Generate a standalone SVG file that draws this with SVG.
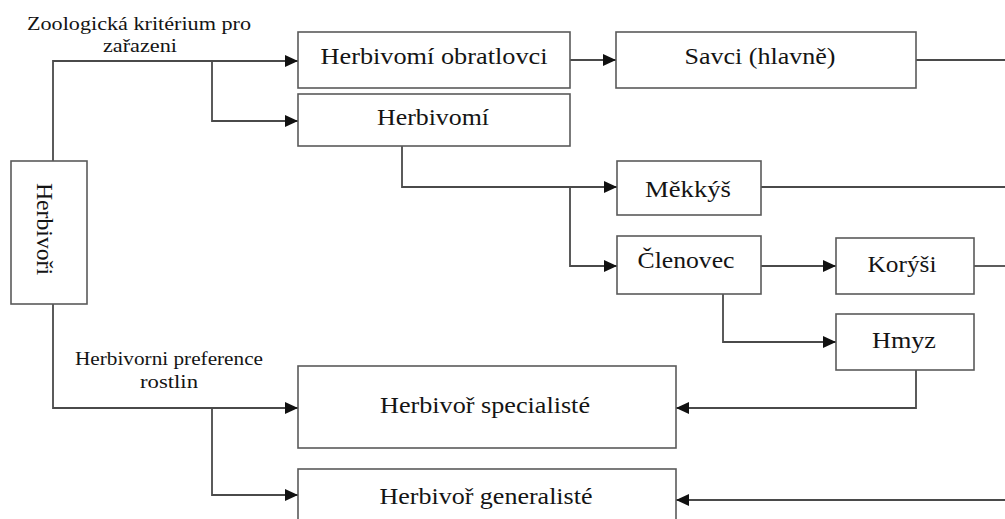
<svg xmlns="http://www.w3.org/2000/svg" width="1005" height="519" viewBox="0 0 1005 519">
<style>
.box{fill:#fff;stroke:#5a5a5a;stroke-width:1.6}
.con{fill:none;stroke:#4a4a4a;stroke-width:1.8}
.t{font-family:"Liberation Serif","Times New Roman",serif;fill:#141414;text-anchor:middle}
.n{font-size:23px}
.l{font-size:19px}
</style>
<defs>
<marker id="ah" markerUnits="userSpaceOnUse" markerWidth="13" markerHeight="12" refX="13" refY="6" orient="auto">
<path d="M0,0 L13,6 L0,12 z" fill="#111"/>
</marker>
</defs>
<rect width="1005" height="519" fill="#fff"/>
<g id="connectors">
<path class="con" d="M53,161 V61 H298" marker-end="url(#ah)"/>
<path class="con" d="M212,61 V121 H298" marker-end="url(#ah)"/>
<path class="con" d="M570,60 H616" marker-end="url(#ah)"/>
<path class="con" d="M916,60 H1005"/>
<path class="con" d="M402,146 V187 H617" marker-end="url(#ah)"/>
<path class="con" d="M570,187 V266 H617" marker-end="url(#ah)"/>
<path class="con" d="M761,187 H1005"/>
<path class="con" d="M761,266 H836" marker-end="url(#ah)"/>
<path class="con" d="M974,266 H1005"/>
<path class="con" d="M723,294 V342 H836" marker-end="url(#ah)"/>
<path class="con" d="M916,370 V408 H676" marker-end="url(#ah)"/>
<path class="con" d="M53,304 V408 H298" marker-end="url(#ah)"/>
<path class="con" d="M212,408 V495 H298" marker-end="url(#ah)"/>
<path class="con" d="M1005,500 H676" marker-end="url(#ah)"/>
</g>
<g id="labels">
<text class="t l" x="139" y="30" textLength="224" lengthAdjust="spacingAndGlyphs">Zoologická kritérium pro</text>
<text class="t l" x="140" y="52" textLength="74" lengthAdjust="spacingAndGlyphs">zařazeni</text>
<text class="t l" x="169" y="365" textLength="188" lengthAdjust="spacingAndGlyphs">Herbivorni preference</text>
<text class="t l" x="169" y="388" textLength="58" lengthAdjust="spacingAndGlyphs">rostlin</text>
</g>
<g id="herbivori">
<rect class="box" x="11" y="161" width="76" height="143"/>
<text class="t" font-size="24" transform="translate(37,229) rotate(90)" textLength="92" lengthAdjust="spacingAndGlyphs">Herbivoři</text>
</g>
<g id="obratlovci">
<rect class="box" x="298" y="32" width="272" height="56"/>
<text class="t n" x="434" y="64" textLength="227" lengthAdjust="spacingAndGlyphs">Herbivomí obratlovci</text>
</g>
<g id="herbivomi">
<rect class="box" x="298" y="94" width="272" height="52"/>
<text class="t n" x="433" y="125" textLength="112" lengthAdjust="spacingAndGlyphs">Herbivomí</text>
</g>
<g id="savci">
<rect class="box" x="616" y="32" width="300" height="56"/>
<text class="t n" x="760" y="64" textLength="151" lengthAdjust="spacingAndGlyphs">Savci (hlavně)</text>
</g>
<g id="mekkys">
<rect class="box" x="617" y="161" width="144" height="54"/>
<text class="t n" x="688" y="197" textLength="86" lengthAdjust="spacingAndGlyphs">Měkkýš</text>
</g>
<g id="clenovec">
<rect class="box" x="617" y="236" width="144" height="58"/>
<text class="t n" x="686" y="268" textLength="97" lengthAdjust="spacingAndGlyphs">Členovec</text>
</g>
<g id="korysi">
<rect class="box" x="836" y="238" width="138" height="56"/>
<text class="t n" x="902" y="272" textLength="69" lengthAdjust="spacingAndGlyphs">Korýši</text>
</g>
<g id="hmyz">
<rect class="box" x="836" y="314" width="138" height="56"/>
<text class="t n" x="904" y="348" textLength="64" lengthAdjust="spacingAndGlyphs">Hmyz</text>
</g>
<g id="specialiste">
<rect class="box" x="298" y="366" width="378" height="82"/>
<text class="t n" x="485" y="413" textLength="210" lengthAdjust="spacingAndGlyphs">Herbivoř specialisté</text>
</g>
<g id="generaliste">
<rect class="box" x="298" y="469" width="378" height="62"/>
<text class="t n" x="486" y="504" textLength="213" lengthAdjust="spacingAndGlyphs">Herbivoř generalisté</text>
</g>
</svg>
